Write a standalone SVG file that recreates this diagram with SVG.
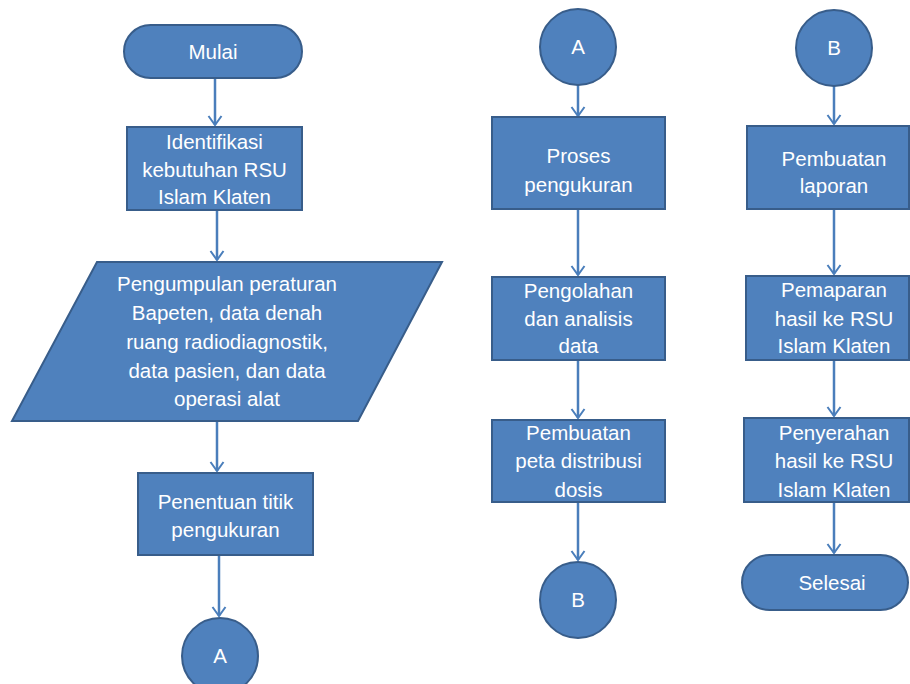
<svg xmlns="http://www.w3.org/2000/svg" width="910" height="684" viewBox="0 0 910 684">
<style>
.s{fill:#4F81BD;stroke:#385D8A;stroke-width:2}
.t{font-family:"Liberation Sans",Arial,sans-serif;font-size:20.5px;fill:#ffffff;text-anchor:middle}
.c{stroke:#4A7EBB;stroke-width:2.5;fill:none;marker-end:url(#ah)}
</style>
<defs>
<marker id="ah" markerUnits="userSpaceOnUse" viewBox="-1 -8 12 16" markerWidth="12" markerHeight="16" refX="9" refY="0" orient="auto">
<path d="M0,-6.5 L9,0 L0,6.5" fill="none" stroke="#4A7EBB" stroke-width="2"/>
</marker>
</defs>
<rect width="910" height="684" fill="#ffffff"/>
<g id="connectors">
<line class="c" x1="215" y1="78" x2="215" y2="125"/>
<line class="c" x1="217" y1="210" x2="217" y2="260"/>
<line class="c" x1="217" y1="421" x2="217" y2="471"/>
<line class="c" x1="219" y1="555" x2="219" y2="616"/>
<line class="c" x1="578" y1="85" x2="578" y2="116"/>
<line class="c" x1="578" y1="209" x2="578" y2="275"/>
<line class="c" x1="578" y1="360" x2="578" y2="418"/>
<line class="c" x1="578" y1="502" x2="578" y2="560"/>
<line class="c" x1="834" y1="86" x2="834" y2="124"/>
<line class="c" x1="834" y1="209" x2="834" y2="274"/>
<line class="c" x1="834" y1="360" x2="834" y2="416"/>
<line class="c" x1="834" y1="502" x2="834" y2="553"/>
</g>
<g id="mulai">
<rect class="s" x="124" y="25" width="178" height="53" rx="26.5"/>
<text class="t" x="213" y="59">Mulai</text>
</g>
<g id="identifikasi">
<rect class="s" x="127" y="127" width="175" height="83"/>
<text class="t" x="214.5" y="149">Identifikasi</text>
<text class="t" x="214.5" y="177">kebutuhan RSU</text>
<text class="t" x="214.5" y="204">Islam Klaten</text>
</g>
<g id="pengumpulan">
<polygon class="s" points="97,262 442,262 358,421 12,421"/>
<text class="t" x="227" y="291" font-size="22">Pengumpulan peraturan</text>
<text class="t" x="227" y="320" font-size="22">Bapeten, data denah</text>
<text class="t" x="227" y="349" font-size="22">ruang radiodiagnostik,</text>
<text class="t" x="227" y="378" font-size="22">data pasien, dan data</text>
<text class="t" x="227" y="406" font-size="22">operasi alat</text>
</g>
<g id="penentuan">
<rect class="s" x="138" y="473" width="175" height="82"/>
<text class="t" x="225.5" y="509">Penentuan titik</text>
<text class="t" x="225.5" y="537">pengukuran</text>
</g>
<g id="a1">
<circle class="s" cx="220" cy="656" r="38"/>
<text class="t" x="220" y="663">A</text>
</g>
<g id="a2">
<circle class="s" cx="578" cy="47" r="38"/>
<text class="t" x="578" y="54">A</text>
</g>
<g id="proses">
<rect class="s" x="492" y="117" width="173" height="92"/>
<text class="t" x="578.5" y="163">Proses</text>
<text class="t" x="578.5" y="192">pengukuran</text>
</g>
<g id="pengolahan">
<rect class="s" x="492" y="277" width="173" height="83"/>
<text class="t" x="578.5" y="298">Pengolahan</text>
<text class="t" x="578.5" y="326">dan analisis</text>
<text class="t" x="578.5" y="353">data</text>
</g>
<g id="pembuatan-peta">
<rect class="s" x="492" y="420" width="173" height="82"/>
<text class="t" x="578.5" y="440">Pembuatan</text>
<text class="t" x="578.5" y="468">peta distribusi</text>
<text class="t" x="578.5" y="497">dosis</text>
</g>
<g id="b1">
<circle class="s" cx="578" cy="600" r="38"/>
<text class="t" x="578" y="607">B</text>
</g>
<g id="b2">
<circle class="s" cx="834" cy="48" r="38"/>
<text class="t" x="834" y="55">B</text>
</g>
<g id="pembuatan-laporan">
<rect class="s" x="747" y="126" width="162" height="83"/>
<text class="t" x="834" y="166">Pembuatan</text>
<text class="t" x="834" y="193">laporan</text>
</g>
<g id="pemaparan">
<rect class="s" x="746" y="276" width="163" height="84"/>
<text class="t" x="834" y="297">Pemaparan</text>
<text class="t" x="834" y="326">hasil ke RSU</text>
<text class="t" x="834" y="353">Islam Klaten</text>
</g>
<g id="penyerahan">
<rect class="s" x="744" y="418" width="165" height="84"/>
<text class="t" x="834" y="440">Penyerahan</text>
<text class="t" x="834" y="468">hasil ke RSU</text>
<text class="t" x="834" y="497">Islam Klaten</text>
</g>
<g id="selesai">
<rect class="s" x="742" y="555" width="166" height="55" rx="27.5"/>
<text class="t" x="832" y="590">Selesai</text>
</g>
</svg>
